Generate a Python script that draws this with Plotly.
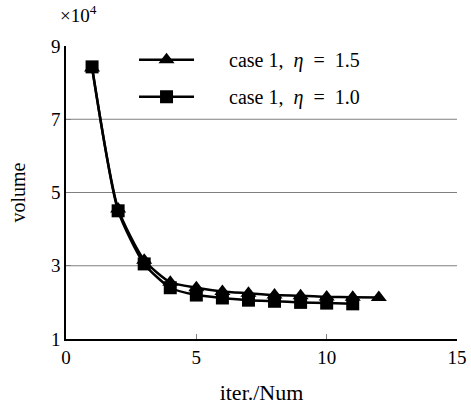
import plotly.graph_objects as go

iters_a = [1, 2, 3, 4, 5, 6, 7, 8, 9, 10, 11, 12]
volume_a = [84000, 45500, 31500, 25500, 24000, 23000, 22500, 22000, 21800, 21500, 21400, 21300]
iters_b = [1, 2, 3, 4, 5, 6, 7, 8, 9, 10, 11]
volume_b = [84300, 45000, 30500, 24000, 22000, 21200, 20600, 20300, 20000, 19800, 19600]
pad = "&nbsp;" * 6
label_a = pad + "case 1,  <i>η</i>  =  1.5"
label_b = pad + "case 1,  <i>η</i>  =  1.0"
x_ticks = [0, 5, 10, 15]
y_ticks = [1, 3, 5, 7, 9]
grid_vals = [3, 5, 7]
scale = 1e4

FONT = "Liberation Serif"

fig = go.Figure()
fig.add_trace(go.Scatter(
    x=iters_a, y=[v / scale for v in volume_a], name=label_a, mode="lines+markers",
    line=dict(color="black", width=2.5, shape="spline", smoothing=0.6),
    marker=dict(symbol="triangle-up", size=14, color="black"),
    legendgroup="a",
))
fig.add_trace(go.Scatter(
    x=iters_b, y=[v / scale for v in volume_b], name=label_b, mode="lines+markers",
    line=dict(color="black", width=2.5, shape="spline", smoothing=0.6),
    marker=dict(symbol="square", size=13, color="black"),
    legendgroup="b",
))

for g in grid_vals:
    fig.add_shape(type="line", xref="paper", x0=0, x1=1, yref="y", y0=g, y1=g,
                  line=dict(color="#808080", width=1), layer="below")

fig.update_layout(
    width=471, height=405,
    margin=dict(l=66, r=14, t=46, b=66),
    plot_bgcolor="white", paper_bgcolor="white",
    font=dict(family=FONT, size=19, color="black"),
    showlegend=True,
    legend=dict(x=0.174, y=1.02, xanchor="left", yanchor="top",
                bgcolor="rgba(0,0,0,0)", font=dict(size=20, family=FONT),
                tracegroupgap=8, traceorder="grouped", itemwidth=55),
    xaxis=dict(range=[0, 15], tickvals=x_ticks, showgrid=False, showline=True,
               linecolor="black", linewidth=1.5, ticks="inside", ticklen=5,
               tickcolor="#808080", zeroline=False, automargin=False,
               title=dict(text="iter./Num", font=dict(size=22), standoff=18),
               tickfont=dict(size=19)),
    yaxis=dict(range=[1, 9], tickvals=y_ticks, showgrid=False, showline=True,
               linecolor="black", linewidth=1.5, ticks="inside", ticklen=5,
               tickcolor="#808080", zeroline=False, automargin=False,
               title=dict(text="volume", font=dict(size=20), standoff=20),
               tickfont=dict(size=19)),
    annotations=[dict(text="×10<sup>4</sup>", xref="paper", yref="paper", x=-0.02, y=1.06,
                      xanchor="left", yanchor="bottom", showarrow=False,
                      font=dict(size=19, family=FONT))],
)

fig.write_html("out.html", config={"displayModeBar": False},
               post_script="document.body.style.margin='0';")
